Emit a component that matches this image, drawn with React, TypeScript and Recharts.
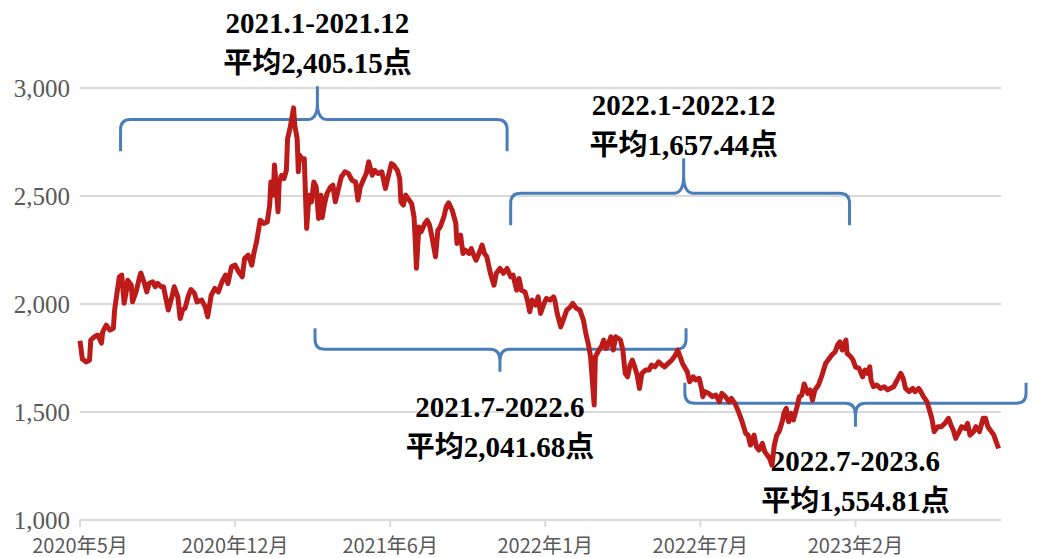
import * as React from 'react';
import {
    LineChart,
    Line,
    XAxis,
    YAxis,
    CartesianGrid,
    ReferenceArea
} from 'recharts';

// trading day counted from the first point (2020-05) and index close on that day
const tradingDay = [
    0, 2, 5, 8, 9, 12, 15, 18, 19, 22, 25, 28, 29, 31, 33, 35, 37, 39, 40, 43,
    44, 47, 50, 51, 54, 56, 58, 61, 63, 65, 68, 70, 72, 74, 77, 79, 82, 84, 86, 88,
    91, 93, 96, 98, 102, 105, 107, 110, 113, 116, 119, 122, 124, 127, 130, 133, 136, 138, 141, 144,
    146, 148, 151, 154, 157, 159, 160, 162, 163, 164, 166, 167, 169, 171, 173, 174, 176, 178, 179, 180,
    182, 183, 184, 186, 188, 189, 190, 192, 194, 196, 198, 200, 202, 203, 205, 207, 210, 212, 214, 217,
    219, 222, 225, 228, 231, 233, 235, 238, 240, 242, 245, 247, 250, 253, 256, 259, 261, 263, 266, 268,
    269, 271, 273, 276, 278, 280, 281, 282, 284, 286, 289, 291, 293, 295, 298, 300, 302, 305, 307, 309,
    312, 315, 316, 319, 321, 323, 326, 328, 330, 332, 335, 337, 339, 341, 344, 347, 349, 352, 355, 358,
    361, 363, 366, 368, 370, 373, 375, 377, 379, 382, 384, 386, 389, 391, 394, 397, 398, 400, 403, 405,
    408, 411, 413, 416, 419, 422, 424, 426, 428, 429, 431, 432, 435, 437, 439, 441, 443, 445, 447, 449,
    451, 453, 455, 457, 459, 461, 463, 465, 467, 469, 471, 474, 477, 479, 482, 485, 488, 490, 493, 496,
    499, 501, 503, 505, 509, 511, 514, 516, 519, 521, 522, 524, 527, 530, 533, 536, 538, 541, 544, 546,
    549, 552, 555, 558, 560, 562, 565, 567, 569, 572, 574, 576, 578, 580, 582, 584, 586, 589, 590, 592,
    594, 596, 598, 601, 603, 605, 607, 610, 612, 614, 616, 619, 622, 625, 628, 630, 633, 635, 637, 639,
    642, 643, 646, 648, 650, 653, 656, 658, 660, 662, 663, 665, 668, 671, 674, 677, 679, 682, 685, 688,
    690, 692, 695, 698, 700, 703, 704, 707, 710, 712, 714, 716, 719, 722, 725, 728, 730, 732, 734, 737,
    739, 742, 744, 746, 749, 751, 754, 757, 759, 761, 764, 766, 768, 770
];

const closeValue = [
    1830, 1745, 1732, 1740, 1833, 1848, 1856, 1819, 1871, 1902, 1879, 1888, 1972, 2050, 2126, 2134, 2003, 2064, 2110, 2087,
    2010, 2056, 2126, 2143, 2096, 2056, 2096, 2103, 2080, 2096, 2080, 2080, 2026, 1972, 2033, 2080, 2033, 1933, 1972, 1980,
    2041, 2067, 2049, 2010, 2018, 1987, 1941, 2041, 2072, 2056, 2103, 2134, 2095, 2172, 2180, 2149, 2126, 2211, 2226, 2180,
    2242, 2288, 2388, 2373, 2380, 2458, 2565, 2504, 2643, 2581, 2427, 2565, 2596, 2581, 2619, 2766, 2812, 2874, 2908, 2828,
    2766, 2612, 2689, 2673, 2673, 2504, 2350, 2504, 2473, 2565, 2542, 2396, 2504, 2400, 2465, 2511, 2542, 2550, 2473, 2542,
    2588, 2612, 2604, 2573, 2565, 2481, 2542, 2581, 2604, 2658, 2596, 2619, 2604, 2612, 2535, 2604, 2650, 2643, 2619, 2581,
    2473, 2458, 2504, 2481, 2465, 2403, 2296, 2165, 2357, 2334, 2373, 2388, 2365, 2311, 2219, 2342, 2357, 2403, 2450, 2468,
    2434, 2373, 2280, 2319, 2234, 2249, 2234, 2257, 2226, 2203, 2242, 2273, 2234, 2219, 2142, 2087, 2142, 2165, 2142, 2165,
    2126, 2134, 2064, 2118, 2064, 2056, 2018, 1964, 2018, 1995, 2033, 1956, 2003, 2026, 2018, 2033, 2018, 1956, 1894, 1925,
    1972, 1987, 2003, 1980, 1972, 1925, 1864, 1817, 1756, 1679, 1532, 1756, 1787, 1802, 1833, 1794, 1817, 1848, 1787, 1848,
    1841, 1833, 1787, 1679, 1663, 1717, 1740, 1709, 1671, 1609, 1679, 1694, 1694, 1717, 1709, 1732, 1717, 1709, 1725, 1740,
    1763, 1787, 1756, 1725, 1686, 1640, 1663, 1648, 1656, 1609, 1571, 1594, 1586, 1571, 1578, 1547, 1586, 1571, 1547, 1563,
    1540, 1501, 1455, 1401, 1393, 1347, 1393, 1339, 1324, 1355, 1316, 1301, 1285, 1254, 1347, 1393, 1409, 1463, 1494, 1517,
    1455, 1494, 1463, 1524, 1571, 1578, 1630, 1586, 1602, 1555, 1602, 1625, 1671, 1725, 1748, 1763, 1779, 1810, 1825, 1787,
    1833, 1771, 1756, 1740, 1709, 1702, 1663, 1694, 1679, 1709, 1648, 1617, 1625, 1609, 1617, 1602, 1609, 1617, 1648, 1679,
    1656, 1609, 1594, 1609, 1594, 1609, 1602, 1571, 1547, 1509, 1471, 1409, 1432, 1432, 1447, 1471, 1440, 1416, 1378, 1409,
    1432, 1424, 1447, 1393, 1409, 1432, 1409, 1471, 1471, 1432, 1409, 1393, 1362, 1331
];

const tickDays = [0, 130, 260, 390, 520, 650];
const tickLabels = ['2020年5月', '2020年12月', '2021年6月', '2022年1月', '2022年7月', '2023年2月'];
const valueTicks = [1000, 1500, 2000, 2500, 3000];

// averaging periods drawn as braces: from/to/mid in trading days, end/level/tip in index points
const periodTitles = ['2021.1-2021.12', '2022.1-2022.12', '2021.7-2022.6', '2022.7-2023.6'];
const periodNotes = ['平均2,405.15点', '平均1,657.44点', '平均2,041.68点', '平均1,554.81点'];
const periodFrom = [34, 361, 197, 507];
const periodTo = [358, 645, 508, 793];
const periodMid = [199, 506, 352, 650];
const periodEnd = [2707, 2365, 1888, 1635];
const periodLevel = [2854, 2513, 1791, 1540];
const periodTip = [3008, 2675, 1686, 1432];
const periodTextDy = [-53, -43, 45, 44];

const chartData = tradingDay.map((d, i) => ({ day: d, value: closeValue[i] }));

const fmt = (v: number) => v.toLocaleString('en-US');

const BRACE = '#4a7ebb';
const LINE = '#bd1a1a';
const GRID = '#d9d9d9';
const LABEL_FONT = '"Liberation Serif", "Noto Sans CJK SC", serif';

const Brace = (props: any) => {
    const { x, y, width, height, idx } = props;
    const up = periodTip[idx] > periodEnd[idx];
    const yTip = up ? y : y + height;
    const yEnd = up ? y + height : y;
    const yLev = yEnd + (periodLevel[idx] - periodEnd[idx]) / (periodTip[idx] - periodEnd[idx]) * (yTip - yEnd);
    const xL = x;
    const xR = x + width;
    const xM = x + (periodMid[idx] - periodFrom[idx]) / (periodTo[idx] - periodFrom[idx]) * width;
    const d = yEnd > yLev ? 1 : -1;
    const r = Math.min(10, Math.abs(yEnd - yLev));
    const t = Math.abs(yTip - yLev) * 0.5;
    const path = [
        `M${xL},${yEnd}`,
        `L${xL},${yLev + d * r}`,
        `Q${xL},${yLev} ${xL + r},${yLev}`,
        `L${xM - r},${yLev}`,
        `Q${xM},${yLev} ${xM},${yLev - d * t}`,
        `L${xM},${yTip}`,
        `M${xM},${yLev - d * t}`,
        `Q${xM},${yLev} ${xM + r},${yLev}`,
        `L${xR - r},${yLev}`,
        `Q${xR},${yLev} ${xR},${yLev + d * r}`,
        `L${xR},${yEnd}`
    ].join(' ');
    return <path d={path} fill="none" stroke={BRACE} strokeWidth={3} />;
};

const BraceText = (props: any) => {
    const { x, y, width, height, idx } = props;
    const up = periodTip[idx] > periodEnd[idx];
    const yTip = up ? y : y + height;
    const xM = x + (periodMid[idx] - periodFrom[idx]) / (periodTo[idx] - periodFrom[idx]) * width;
    const base = yTip + periodTextDy[idx];
    return (
        <g fontFamily={LABEL_FONT} fontWeight="bold" fontSize={29} fill="#000">
            <text x={xM} y={base} textAnchor="middle">{periodTitles[idx]}</text>
            <text x={xM} y={base + 40} textAnchor="middle">{periodNotes[idx]}</text>
        </g>
    );
};

const XTick = (props: any) => {
    const { x, y, payload } = props;
    return (
        <text x={x} y={y} dy={24} textAnchor="middle" fill="#595959"
            fontFamily='"Noto Sans CJK SC", sans-serif' fontSize={20}>
            {tickLabels[tickDays.indexOf(payload.value)]}
        </text>
    );
};

const App: React.FC = () => {
    return (
        <LineChart
            width={1022}
            height={550}
            data={chartData}
            margin={{ top: 80, right: 29, left: 0, bottom: 8 }}
        >
            <CartesianGrid vertical={false} stroke={GRID} strokeWidth={2} />
            <XAxis
                dataKey="day"
                type="number"
                domain={[0, 772]}
                ticks={tickDays}
                height={30}
                axisLine={{ stroke: GRID, strokeWidth: 2 }}
                tickLine={{ stroke: GRID, strokeWidth: 2 }}
                tickSize={7}
                tick={<XTick />}
                interval={0}
            />
            <YAxis
                type="number"
                domain={[1000, 3000]}
                ticks={valueTicks}
                width={72}
                axisLine={false}
                tickLine={false}
                tickSize={0}
                tickMargin={10}
                tickFormatter={fmt}
                tick={{ fill: '#595959', fontSize: 25, fontFamily: '"Liberation Serif", serif' }}
                interval={0}
            />
            {periodTitles.map((_, i) => (
                <ReferenceArea
                    key={'b' + i}
                    x1={periodFrom[i]}
                    x2={periodTo[i]}
                    y1={periodEnd[i]}
                    y2={periodTip[i]}
                    ifOverflow="visible"
                    shape={(p: any) => <Brace {...p} idx={i} />}
                />
            ))}
            <Line
                type="linear"
                dataKey="value"
                stroke={LINE}
                strokeWidth={5}
                strokeLinejoin="round"
                dot={false}
                activeDot={false}
                isAnimationActive={false}
            />
            {periodTitles.map((_, i) => (
                <ReferenceArea
                    key={'t' + i}
                    x1={periodFrom[i]}
                    x2={periodTo[i]}
                    y1={periodEnd[i]}
                    y2={periodTip[i]}
                    ifOverflow="visible"
                    shape={(p: any) => <BraceText {...p} idx={i} />}
                />
            ))}
        </LineChart>
    );
};

export default App;
